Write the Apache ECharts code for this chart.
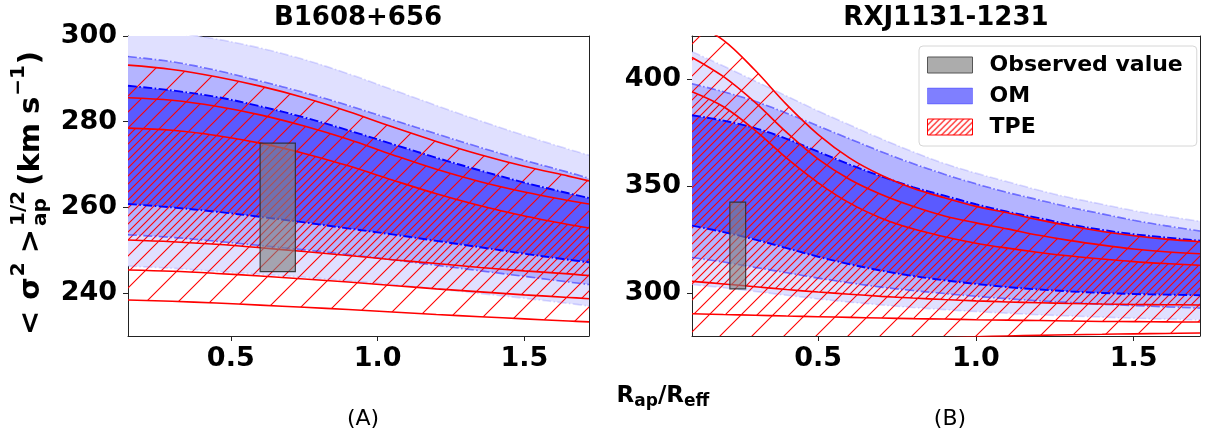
<!DOCTYPE html>
<html><head><meta charset="utf-8">
<script src="https://cdn.jsdelivr.net/npm/echarts@6/dist/echarts.min.js"></script>
<style>html,body{margin:0;padding:0;background:#fff}#c{width:1211px;height:438px}</style>
</head><body><div id="c"></div>
<script>
// ---------------- Panel A: B1608+656 ----------------
const b_x        = [0.15, 0.3, 0.45, 0.6, 0.75, 0.9, 1.05, 1.2, 1.35, 1.5, 1.65, 1.72];
const b_om_hi3   = [301.8, 300.8, 299.3, 297.2, 294.5, 291.2, 287.5, 283.8, 280.2, 276.8, 273.6, 272.2];
const b_om_hi2   = [295.2, 294.0, 292.0, 289.5, 286.8, 283.8, 280.5, 277.2, 274.0, 271.0, 268.2, 266.8];
const b_om_hi1   = [288.4, 287.3, 285.8, 283.6, 281.0, 278.0, 274.8, 271.6, 268.6, 265.8, 263.3, 262.2];
const b_om_lo1   = [260.8, 260.0, 259.0, 257.8, 256.5, 255.1, 253.7, 252.2, 250.7, 249.2, 247.8, 247.2];
const b_om_lo2   = [253.6, 253.0, 252.1, 251.1, 250.1, 249.0, 247.8, 246.5, 245.2, 243.9, 242.6, 242.0];
const b_om_lo3   = [246.3, 245.8, 245.1, 244.4, 243.7, 242.9, 242.0, 241.0, 239.9, 238.8, 237.6, 237.0];
const b_tpe_hi3  = [293.2, 292.2, 290.5, 288.3, 285.6, 282.4, 278.8, 275.4, 272.3, 269.6, 267.3, 266.2];
const b_tpe_hi2  = [285.6, 285.0, 283.6, 281.6, 279.0, 275.9, 272.3, 268.9, 266.0, 263.6, 261.6, 260.8];
const b_tpe_hi1  = [278.5, 278.0, 276.8, 275.0, 272.6, 269.7, 266.4, 263.2, 260.4, 258.0, 256.0, 255.2];
const b_tpe_lo1  = [252.4, 252.0, 251.4, 250.6, 249.7, 248.8, 247.8, 246.9, 246.0, 245.2, 244.5, 244.1];
const b_tpe_lo2  = [245.4, 245.1, 244.6, 244.0, 243.3, 242.6, 241.8, 241.0, 240.3, 239.6, 239.0, 238.7];
const b_tpe_lo3  = [238.4, 238.1, 237.7, 237.2, 236.7, 236.2, 235.6, 235.0, 234.5, 234.0, 233.5, 233.3];
const b_obs_x    = [0.60, 0.72];
const b_obs_y    = [245, 275];
const b_xticks   = [0.5, 1.0, 1.5];
const b_yticks   = [240, 260, 280, 300];

// ---------------- Panel B: RXJ1131-1231 ----------------
const r_x        = [0.1, 0.2, 0.3, 0.4, 0.5, 0.6, 0.7, 0.8, 0.9, 1.0, 1.1, 1.2, 1.3, 1.4, 1.5, 1.6, 1.71];
const r_om_hi3   = [412.7, 406.0, 399.0, 392.0, 385.0, 378.5, 372.0, 366.0, 360.5, 356.0, 352.0, 348.0, 344.5, 341.5, 338.5, 336.0, 333.5];
const r_om_hi2   = [397.7, 394.0, 389.5, 384.0, 378.0, 372.0, 366.0, 360.5, 355.5, 351.0, 347.0, 343.5, 340.0, 337.0, 334.0, 331.5, 329.0];
const r_om_hi1   = [383.0, 380.5, 377.0, 372.0, 366.0, 360.0, 354.5, 349.5, 345.5, 341.5, 338.0, 335.0, 332.0, 329.5, 327.5, 326.0, 324.5];
const r_om_lo1   = [331.5, 328.5, 325.0, 321.0, 317.0, 313.5, 310.5, 308.0, 306.0, 304.3, 302.8, 301.7, 300.8, 300.1, 299.6, 299.3, 299.0];
const r_om_lo2   = [316.6, 314.5, 312.0, 309.5, 307.0, 304.8, 302.8, 301.2, 299.8, 298.5, 297.4, 296.4, 295.6, 294.8, 294.2, 293.6, 293.0];
const r_om_lo3   = [304.0, 302.5, 300.8, 299.0, 297.3, 295.8, 294.5, 293.3, 292.3, 291.4, 290.6, 289.9, 289.3, 288.8, 288.3, 287.9, 287.5];
const r_tpe_hi3  = [426.0, 418.0, 404.0, 388.0, 374.0, 363.0, 355.0, 349.0, 344.5, 340.5, 337.5, 334.2, 331.3, 328.8, 326.8, 325.2, 324.0];
const r_tpe_hi2  = [410.0, 401.0, 389.0, 375.0, 362.5, 353.0, 346.0, 340.5, 336.0, 332.8, 330.0, 327.0, 324.5, 322.4, 320.6, 319.3, 318.4];
const r_tpe_hi1  = [394.0, 387.0, 376.0, 363.0, 351.5, 342.0, 335.0, 330.0, 326.3, 323.3, 321.0, 319.0, 317.3, 315.9, 314.7, 313.8, 313.0];
const r_tpe_lo1  = [305.5, 304.3, 303.0, 301.7, 300.5, 299.5, 298.5, 297.7, 297.0, 296.4, 295.9, 295.5, 295.2, 294.9, 294.7, 294.6, 294.5];
const r_tpe_lo2  = [290.4, 290.0, 289.7, 289.3, 289.0, 288.7, 288.4, 288.1, 287.9, 287.6, 287.4, 287.2, 287.0, 286.8, 286.7, 286.6, 286.5];
const r_tpe_lo3  = [276.0, 276.4, 276.8, 277.2, 277.6, 278.0, 278.4, 278.8, 279.2, 279.6, 280.0, 280.3, 280.6, 280.8, 281.0, 281.2, 281.4];
const r_obs_x    = [0.22, 0.27];
const r_obs_y    = [302, 342.5];
const r_xticks   = [0.5, 1.0, 1.5];
const r_yticks   = [300, 350, 400];

const titles     = ['B1608+656', 'RXJ1131-1231'];
const panelTags  = ['(A)', '(B)'];
const legendNames = ['Observed value', 'OM', 'TPE'];

// ---------------- styling helpers ----------------
const FF = '"DejaVu Sans", sans-serif';
const BLUE1 = '#e0e0ff', BLUE2 = '#b4b4ff', BLUE3 = '#5a5aff';
const DASH = [9, 2.4, 1.6, 2.4];

function hatch(s, lw) {
  const c = document.createElement('canvas'); c.width = s; c.height = s;
  const g = c.getContext('2d');
  g.strokeStyle = '#ff0000'; g.lineWidth = lw || 1.1;
  g.beginPath();
  g.moveTo(-1, s + 1); g.lineTo(s + 1, -1);
  g.moveTo(-1, 1); g.lineTo(1, -1);
  g.moveTo(s - 1, s + 1); g.lineTo(s + 1, s - 1);
  g.stroke();
  return { image: c, repeat: 'repeat' };
}
const H1 = hatch(32), H2 = hatch(16), H4 = hatch(8);

// Stacked band series: data stored as [value, x] so the value dimension is the stacked one.
function stackBands(id, xs, levels, fills, gi, z, legendName, legendIdx) {
  return levels.map((lv, k) => {
    const s = {
      type: 'line', id: id + k, name: (k === legendIdx && legendName) ? legendName : id + k,
      xAxisIndex: gi, yAxisIndex: gi, stack: id,
      encode: { x: 1, y: 0 },
      data: xs.map((x, i) => [k === 0 ? lv[i] : +(lv[i] - levels[k - 1][i]).toFixed(4), x]),
      smooth: 0.35, symbol: 'none', showSymbol: false, silent: true, z: z,
      lineStyle: { width: 0, opacity: 0 }
    };
    if (k > 0) s.areaStyle = { color: fills[k - 1], opacity: 1 };
    return s;
  });
}
function line(xs, ys, gi, color, width, type, z) {
  return {
    type: 'line', xAxisIndex: gi, yAxisIndex: gi, data: xs.map((x, i) => [x, ys[i]]),
    smooth: 0.35, symbol: 'none', showSymbol: false, silent: true, z: z,
    lineStyle: { color: color, width: width, type: type || 'solid' }
  };
}
function box(name, xr, yr, gi) {
  return {
    type: 'custom', name: name, xAxisIndex: gi, yAxisIndex: gi, z: 30, silent: true, clip: true,
    data: [[xr[0], xr[1], yr[0], yr[1]]], encode: { x: [0, 1], y: [2, 3] },
    itemStyle: { color: 'rgba(128,128,128,0.62)' },
    renderItem: function (params, api) {
      const a = api.coord([api.value(0), api.value(3)]);
      const b = api.coord([api.value(1), api.value(2)]);
      return { type: 'rect', shape: { x: a[0], y: a[1], width: b[0] - a[0], height: b[1] - a[1] },
        style: { fill: 'rgba(128,128,128,0.62)', stroke: 'rgba(40,40,40,0.85)', lineWidth: 1.2 } };
    }
  };
}
function panelSeries(p, gi, xs, om, tpe, obsx, obsy, named) {
  const out = [];
  out.push(...stackBands(p + 'om', xs, om, [BLUE1, BLUE2, BLUE3, BLUE2, BLUE1], gi, 2, named ? 'OM' : null, 3));
  out.push(...stackBands(p + 'tpe', xs, tpe, [H1, H2, H4, H2, H1], gi, 3, named ? 'TPE' : null, 3));
  const omCol = ['rgba(90,90,255,0.22)', 'rgba(40,40,255,0.6)', '#0000ff', '#0000ff', 'rgba(40,40,255,0.6)', 'rgba(90,90,255,0.22)'];
  const omW = [1.6, 1.6, 1.9, 1.9, 1.6, 1.6];
  om.forEach((lv, k) => out.push(line(xs, lv, gi, omCol[k], omW[k], DASH, 5)));
  tpe.forEach(lv => out.push(line(xs, lv, gi, '#ff0000', 1.6, 'solid', 6)));
  out.push(box(named ? 'Observed value' : p + 'obs', obsx, obsy, gi));
  return out;
}

const series = [].concat(
  panelSeries('b', 0, b_x,
    [b_om_lo3, b_om_lo2, b_om_lo1, b_om_hi1, b_om_hi2, b_om_hi3],
    [b_tpe_lo3, b_tpe_lo2, b_tpe_lo1, b_tpe_hi1, b_tpe_hi2, b_tpe_hi3], b_obs_x, b_obs_y, true),
  panelSeries('r', 1, r_x,
    [r_om_lo3, r_om_lo2, r_om_lo1, r_om_hi1, r_om_hi2, r_om_hi3],
    [r_tpe_lo3, r_tpe_lo2, r_tpe_lo1, r_tpe_hi1, r_tpe_hi2, r_tpe_hi3], r_obs_x, r_obs_y, false)
);

// ---------------- axes ----------------
const AX = '#222';
function xAx(gi, min, max, ticks) {
  return { gridIndex: gi, type: 'value', min: min, max: max,
    axisLine: { show: true, onZero: false, lineStyle: { color: AX, width: 1 } },
    axisTick: { show: true, length: 5, customValues: ticks, lineStyle: { color: AX, width: 1 } },
    axisLabel: { customValues: ticks, formatter: v => v.toFixed(1), fontSize: 27, fontWeight: 'bold', fontFamily: FF, color: '#000', margin: 9 },
    splitLine: { show: false } };
}
function yAx(gi, min, max, ticks) {
  return { gridIndex: gi, type: 'value', min: min, max: max,
    axisLine: { show: true, onZero: false, lineStyle: { color: AX, width: 1 } },
    axisTick: { show: true, length: 5, customValues: ticks, lineStyle: { color: AX, width: 1 } },
    axisLabel: { customValues: ticks, formatter: v => String(v), fontSize: 27, fontWeight: 'bold', fontFamily: FF, color: '#000', margin: 11 },
    splitLine: { show: false } };
}
function frameAx(gi, min, max, pos) {
  return { gridIndex: gi, type: 'value', min: min, max: max, position: pos,
    axisLine: { show: true, onZero: false, lineStyle: { color: AX, width: 1 } },
    axisTick: { show: false }, axisLabel: { show: false }, splitLine: { show: false } };
}

// ---------------- text helpers ----------------
const mctx = document.createElement('canvas').getContext('2d');
function tw(t, size, weight) { mctx.font = (weight || 'bold') + ' ' + size + 'px "DejaVu Sans"'; return mctx.measureText(t).width; }
function mathRow(parts) {
  let x = 0, lastX = 0, lastW = 0; const kids = [];
  parts.forEach(p => {
    const w = tw(p.t, p.s);
    let px;
    if (p.stack) { px = lastX; lastW = Math.max(lastW, w); }
    else { x += (p.gap || 0); px = x; lastX = px; lastW = w; }
    kids.push({ type: 'text', x: px, y: p.dy || 0, silent: true,
      style: { text: p.t, font: 'bold ' + p.s + 'px "DejaVu Sans"', fill: '#000', align: 'left', verticalAlign: 'middle' } });
    x = lastX + lastW;
  });
  return { kids: kids, width: x };
}
const ylab = mathRow([
  { t: '<', s: 29 }, { t: 'σ', s: 29, gap: 11 }, { t: '2', s: 20, dy: -12, gap: 1 },
  { t: '>', s: 29, gap: 9 }, { t: '1/2', s: 20, dy: -12, gap: 3 }, { t: 'ap', s: 20, dy: 10, stack: true },
  { t: '(km', s: 29, gap: 5 }, { t: 's', s: 29, gap: 9 }, { t: '−1', s: 20, dy: -12, gap: 1 }, { t: ')', s: 29, gap: 1 }
]);
const xlab = mathRow([
  { t: 'R', s: 23 }, { t: 'ap', s: 17, dy: 6 }, { t: '/R', s: 23 }, { t: 'eff', s: 17, dy: 6 }
]);

const graphic = [
  { type: 'text', x: 358, y: 18, silent: true, style: { text: titles[0], font: 'bold 26px "DejaVu Sans"', fill: '#000', align: 'center', verticalAlign: 'middle' } },
  { type: 'text', x: 946, y: 18, silent: true, style: { text: titles[1], font: 'bold 26px "DejaVu Sans"', fill: '#000', align: 'center', verticalAlign: 'middle' } },
  { type: 'text', x: 363, y: 419, silent: true, style: { text: panelTags[0], font: '22px "DejaVu Sans"', fill: '#000', align: 'center', verticalAlign: 'middle' } },
  { type: 'text', x: 950, y: 419, silent: true, style: { text: panelTags[1], font: '22px "DejaVu Sans"', fill: '#000', align: 'center', verticalAlign: 'middle' } },
  { type: 'group', x: 663 - xlab.width / 2, y: 396, children: xlab.kids, silent: true },
  { type: 'group', x: 31, y: 193 + ylab.width / 2, rotation: Math.PI / 2, children: ylab.kids, silent: true }
];

const option = {
  animation: false,
  backgroundColor: '#fff',
  grid: [
    { left: 128, top: 36, width: 461, height: 300, show: false },
    { left: 692, top: 36, width: 508, height: 300, show: false }
  ],
  xAxis: [xAx(0, 0.15, 1.72, b_xticks), xAx(1, 0.1, 1.71, r_xticks), frameAx(0, 0.15, 1.72, 'top'), frameAx(1, 0.1, 1.71, 'top')],
  yAxis: [yAx(0, 230, 300, b_yticks), yAx(1, 280, 420, r_yticks), frameAx(0, 230, 300, 'right'), frameAx(1, 280, 420, 'right')],
  legend: {
    show: true, orient: 'vertical', left: 919, top: 46, padding: [8, 14, 8, 8], itemGap: 9,
    itemWidth: 45, itemHeight: 16, selectedMode: false,
    backgroundColor: 'rgba(255,255,255,0.85)', borderColor: '#d6d6d6', borderWidth: 1, borderRadius: 4,
    textStyle: { fontSize: 22, fontWeight: 'bold', fontFamily: FF, color: '#000', padding: [0, 0, 0, 12] },
    data: [
      { name: legendNames[0], icon: 'rect', itemStyle: { color: 'rgba(128,128,128,0.65)', borderColor: '#555', borderWidth: 1 } },
      { name: legendNames[1], icon: 'rect', itemStyle: { color: 'rgba(0,0,255,0.5)', borderColor: 'rgba(0,0,255,0.3)', borderWidth: 1 } },
      { name: legendNames[2], icon: 'rect', itemStyle: { color: hatch(6, 1.2), borderColor: '#ff0000', borderWidth: 1 } }
    ]
  },
  graphic: graphic,
  series: series
};
const chart = echarts.init(document.getElementById('c'), null, { renderer: 'canvas' });
chart.setOption(option);
</script>
</body></html>
